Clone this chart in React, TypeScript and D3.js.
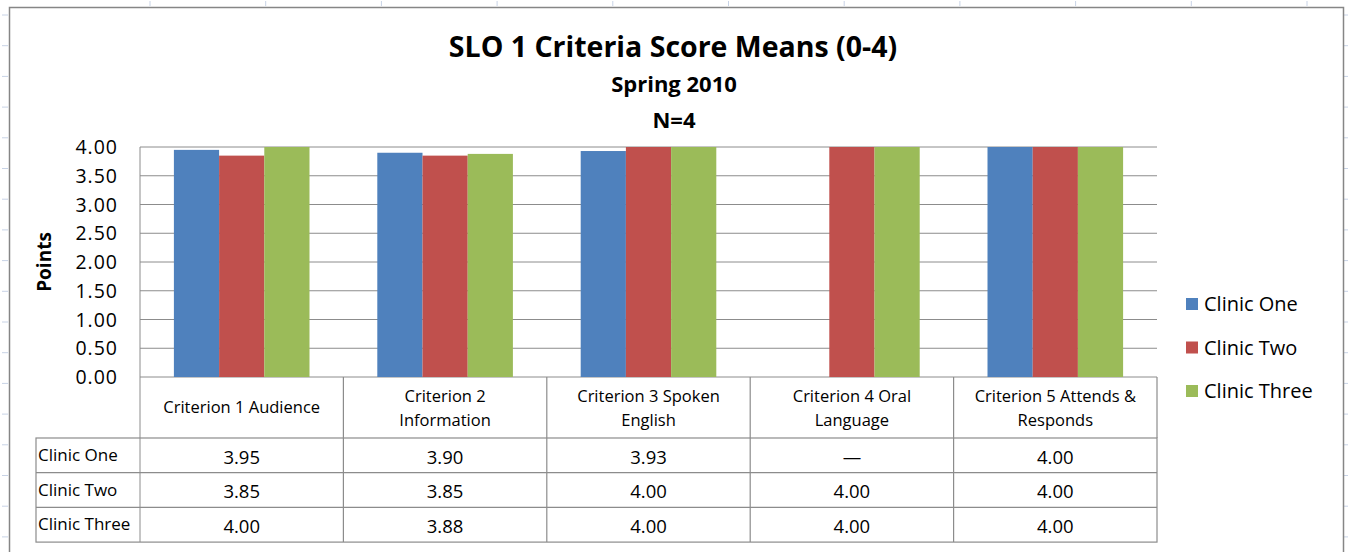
import React from 'react';
import * as d3 from 'd3';

const criteria = [
  ['Criterion 1 Audience'],
  ['Criterion 2', 'Information'],
  ['Criterion 3 Spoken', 'English'],
  ['Criterion 4  Oral', 'Language'],
  ['Criterion 5 Attends &', 'Responds'],
];
const seriesNames = ['Clinic One', 'Clinic Two', 'Clinic Three'];
const clinicOne = [3.95, 3.9, 3.93, null, 4.0];
const clinicTwo = [3.85, 3.85, 4.0, 4.0, 4.0];
const clinicThree = [4.0, 3.88, 4.0, 4.0, 4.0];
const yTicks = [0, 0.5, 1, 1.5, 2, 2.5, 3, 3.5, 4];
const colors = ['#4f81bd', '#c0504d', '#9bbb59'];

const font = '"Open Sans", Lato, sans-serif';
const W = 1348;
const H = 552;

const App: React.FC = () => {
  const series = [clinicOne, clinicTwo, clinicThree];
  const left = 140;
  const right = 1157;
  const top = 147;
  const bottom = 377;

  const x = d3.scaleBand<number>()
    .domain(d3.range(criteria.length))
    .range([left, right]);
  const y = d3.scaleLinear().domain([0, 4]).range([bottom, top]);

  // excel style gap width of 150%
  const barW = x.bandwidth() / 4.5;
  const groupOff = (x.bandwidth() - barW * 3) / 2;

  const headerBottom = 438;
  const rowH = 34.7;
  const tableLeft = 36;
  const lineCol = '#8c8c8c';

  return (
    <svg width={W} height={H} style={{ position: 'absolute', left: 0, top: 0, background: '#fff' }}>
      {/* spreadsheet gridline stubs */}
      {d3.range(12).map(i => (
        <line key={'t' + i} x1={150 + i * 115.7} x2={150 + i * 115.7} y1={1} y2={6} stroke="#c8d3e6" />
      ))}
      {d3.range(18).map(i => (
        <line key={'l' + i} x1={2} x2={8} y1={15 + i * 30.7} y2={15 + i * 30.7} stroke="#c8d3e6" />
      ))}
      {d3.range(18).map(i => (
        <line key={'r' + i} x1={1344} x2={1348} y1={15 + i * 30.7} y2={15 + i * 30.7} stroke="#c8d3e6" />
      ))}
      <rect x={9.5} y={7.5} width={1334} height={560} fill="#fff" stroke="#868686" strokeWidth={1.5} />

      <g fontFamily={font} fontWeight="bold" textAnchor="middle" fill="#000">
        <text x={673} y={57} fontSize={28.5}>SLO 1 Criteria Score Means (0-4)</text>
        <text x={674} y={92} fontSize={22}>Spring 2010</text>
        <text x={674} y={128} fontSize={22}>N=4</text>
      </g>

      {/* gridlines */}
      {yTicks.map(t => (
        <line key={t} x1={left} x2={right} y1={y(t)} y2={y(t)} stroke={lineCol} strokeWidth={1} />
      ))}
      <line x1={left} x2={left} y1={top} y2={H - 10} stroke={lineCol} />

      {/* y tick labels */}
      {yTicks.map(t => (
        <text key={'yl' + t} x={118} y={y(t) + 7} textAnchor="end" fontFamily={font} fontSize={19.5}
          letterSpacing={1} fill="#000">
          {t.toFixed(2)}
        </text>
      ))}
      <text transform={`translate(51,262) rotate(-90)`} textAnchor="middle"
        fontFamily={font} fontWeight="bold" fontSize={19} fill="#000">Points</text>

      {/* bars */}
      {series.map((s, si) => s.map((v, ci) => v == null ? null : (
        <rect key={si + '-' + ci}
          x={x(ci)! + groupOff + si * barW}
          y={y(v)}
          width={barW}
          height={y(0) - y(v)}
          fill={colors[si]} />
      )))}

      {/* data table */}
      <g stroke={lineCol} strokeWidth={1.2} fill="none">
        <rect x={tableLeft} y={headerBottom} width={right - tableLeft} height={rowH * 3} />
        <line x1={right} x2={right} y1={bottom} y2={headerBottom} />
        {d3.range(1, criteria.length).map(i => (
          <line key={i} x1={x(i)} x2={x(i)} y1={bottom} y2={headerBottom + rowH * 3} />
        ))}
        {d3.range(1, 3).map(i => (
          <line key={'h' + i} x1={tableLeft} x2={right} y1={headerBottom + rowH * i} y2={headerBottom + rowH * i} />
        ))}
      </g>
      <g fontFamily={font} fontSize={16.5} fill="#000" textAnchor="middle">
        {criteria.map((lines, ci) => lines.map((ln, li) => (
          <text key={ci + '-' + li} x={x(ci)! + x.bandwidth() / 2}
            y={lines.length === 1 ? 413 : 402 + li * 24}>{ln}</text>
        )))}
      </g>
      <g fontFamily={font} fill="#000">
        {seriesNames.map((n, si) => (
          <text key={n} x={38} y={headerBottom + rowH * si + 23} fontSize={17}>{n}</text>
        ))}
        {series.map((s, si) => s.map((v, ci) => (
          <text key={si + '-' + ci} x={x(ci)! + x.bandwidth() / 2} y={headerBottom + rowH * si + 25.5}
            textAnchor="middle" fontSize={18.5}>{v == null ? '—' : v.toFixed(2)}</text>
        )))}
      </g>

      {/* legend */}
      {seriesNames.map((n, si) => (
        <g key={'lg' + n} transform={`translate(1186,${304 + si * 43.5})`}>
          <rect x={0} y={-6} width={12} height={12} fill={colors[si]} />
          <text x={18} y={7} fontFamily={font} fontSize={20} fill="#000">{n}</text>
        </g>
      ))}
    </svg>
  );
};

export default App;
